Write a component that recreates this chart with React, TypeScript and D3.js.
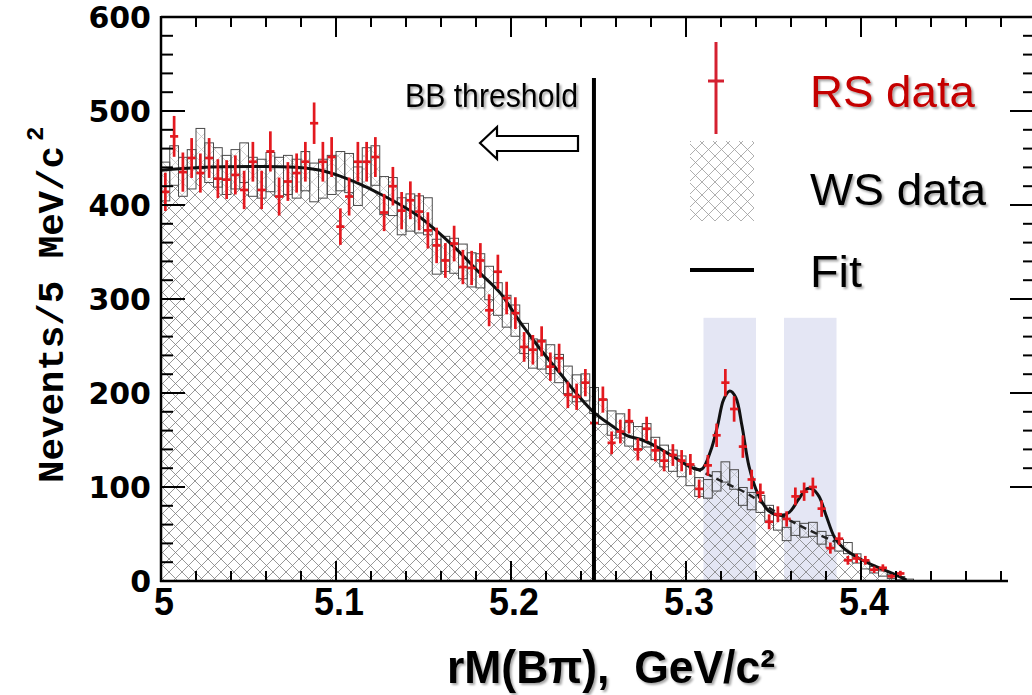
import React from "react";
import * as d3 from "d3";

// ---- data ----
const binStart = 5.0;
const binWidth = 0.005;

const rsCounts = [
  414, 473, 435, 450, 434, 450, 428, 427, 432, 416,
  446, 416, 457, 409, 425, 434, 446, 487, 446, 451,
  377, 409, 446, 446, 451, 392, 420, 394, 405, 393,
  373, 357, 341, 359, 334, 333, 341, 288, 329, 301,
  285, 249, 246, 255, 228, 237, 198, 196, 211, 168,
  193, 147, 159, 170, 140, 162, 139, 128, 134, 128,
  124, 98, 123, 155, 211, 183, 143, 108, 94, 63,
  71, 66, 90, 95, 100, 77, 35, 45, 22, 24,
  22, 12, 14, 5, 8,
];

const wsCounts = [
  425, 442, 430, 438, 460, 445, 440, 432, 438, 445,
  430, 428, 435, 430, 432, 428, 436, 424, 428, 432,
  436, 434, 420, 440, 442, 410, 409, 388, 392, 390,
  388, 345, 348, 346, 340, 331, 330, 317, 300, 287,
  277, 258, 242, 241, 236, 226, 214, 205, 206, 192,
  180, 168, 165, 156, 152, 155, 141, 133, 128, 122,
  112, 100, 98, 106, 116, 108, 90, 85, 82, 72,
  62, 50, 56, 54, 55, 46, 42, 38, 35, 24,
  17, 12, 8, 5, 3, 1,
];

const fitMass = [
  5.0, 5.022, 5.057, 5.079, 5.091, 5.102, 5.114, 5.125, 5.137, 5.148,
  5.159, 5.171, 5.182, 5.194, 5.205, 5.217, 5.228, 5.239, 5.247, 5.257,
  5.266, 5.275, 5.283, 5.293, 5.304, 5.309, 5.314, 5.318, 5.3215, 5.325,
  5.3285, 5.332, 5.336, 5.341, 5.347, 5.354, 5.359, 5.364, 5.369, 5.372,
  5.376, 5.38, 5.385, 5.39, 5.399, 5.409, 5.418, 5.426,
];
const fitCounts = [
  437, 440, 441, 440, 437, 431, 422, 412, 400, 387,
  370, 349, 328, 306, 276, 246, 221, 196, 180, 166,
  155, 150, 143, 132, 120, 119, 138, 165, 193, 202,
  195, 165, 122, 93, 75, 70, 73, 86, 98, 98,
  90, 70, 46, 35, 24, 15, 8, 1,
];

const bkgMass = [5.305, 5.315, 5.325, 5.335, 5.345, 5.355, 5.365, 5.375, 5.385];
const bkgCounts = [120, 111, 102, 93, 81, 69, 59, 50, 42];

const signalBands = [
  [5.31, 5.34],
  [5.356, 5.386],
];
const bandTop = 280;
const thresholdMass = 5.2474;

const xTickValues = [5.0, 5.1, 5.2, 5.3, 5.4];
const xTickLabels = ["5", "5.1", "5.2", "5.3", "5.4"];
const yTickValues = [0, 100, 200, 300, 400, 500, 600];
const yTickLabels = ["0", "100", "200", "300", "400", "500", "600"];
const legendLabels = ["RS data", "WS data", "Fit"];

// ---- layout ----
const W = 1032;
const H = 695;
const x = d3.scaleLinear().domain([5.0, 5.5]).range([161, 1036]);
const y = d3.scaleLinear().domain([0, 600]).range([581, 17]);

const RED = "#e3191f";

export default function App() {
  const hatchPts: [number, number][] = [];
  wsCounts.forEach((v, k) => {
    const lo = binStart + k * binWidth;
    const top = Math.max(0, v - Math.sqrt(v));
    hatchPts.push([lo, top], [lo + binWidth, top]);
  });
  hatchPts.unshift([binStart, 0]);
  hatchPts.push([binStart + wsCounts.length * binWidth, 0]);
  const hatchArea = d3
    .area<[number, number]>()
    .x((d) => x(d[0]))
    .y0(y(0))
    .y1((d) => y(d[1]))(hatchPts) as string;

  const fitLine = d3
    .line<number>()
    .x((_, i) => x(fitMass[i]))
    .y((d) => y(d))
    .curve(d3.curveCatmullRom.alpha(0.5))(fitCounts) as string;

  const bkgLine = d3
    .line<number>()
    .x((_, i) => x(bkgMass[i]))
    .y((d) => y(d))
    .curve(d3.curveCatmullRom.alpha(0.5))(bkgCounts) as string;

  const minorX = d3.range(5.02, 5.5001, 0.02);
  const minorY = d3.range(20, 600, 20);
  const rightY = d3.range(100, 600, 20);

  const shadow = "url(#txtShadow)";

  return (
    <svg
      width={W}
      height={H}
      style={{ position: "absolute", left: 0, top: 0, background: "#fff" }}
      fontFamily="Liberation Sans, Arial, sans-serif"
    >
      <defs>
        <pattern id="hatch" patternUnits="userSpaceOnUse" width={13} height={13}>
          <path d="M0,0 L13,13 M13,0 L0,13" stroke="#7d7d7d" strokeWidth={0.8} fill="none" />
        </pattern>
        <pattern id="hatchLeg" patternUnits="userSpaceOnUse" width={13} height={13}>
          <path d="M0,0 L13,13 M13,0 L0,13" stroke="#9a9a9a" strokeWidth={0.8} fill="none" />
        </pattern>
        <filter id="txtShadow" x="-10%" y="-20%" width="130%" height="160%">
          <feDropShadow dx="2" dy="2" stdDeviation="1.2" floodColor="#000" floodOpacity="0.35" />
        </filter>
      </defs>
      <rect x={0} y={0} width={W} height={H} fill="#fff" />

      {/* signal bands */}
      {signalBands.map(([a, b], i) => (
        <rect
          key={"band" + i}
          x={x(a)}
          y={y(bandTop)}
          width={x(b) - x(a)}
          height={y(0) - y(bandTop)}
          fill="#e4e6f4"
        />
      ))}

      {/* WS hatched histogram */}
      <path d={hatchArea} fill="url(#hatch)" stroke="none" />
      {wsCounts.map((v, k) => {
        const lo = binStart + k * binWidth;
        const e = Math.sqrt(v);
        const top = y(v + e);
        const bot = y(Math.max(0, v - e));
        return (
          <g key={"ws" + k}>
            <rect
              x={x(lo)}
              y={top}
              width={x(lo + binWidth) - x(lo)}
              height={bot - top}
              fill="url(#hatch)"
              fillOpacity={0.45}
              stroke="none"
            />
            <rect
              x={x(lo)}
              y={top}
              width={x(lo + binWidth) - x(lo)}
              height={bot - top}
              fill="none"
              stroke="#4a4a4a"
              strokeWidth={1}
            />
          </g>
        );
      })}

      {/* fit */}
      <path d={bkgLine} fill="none" stroke="#222" strokeWidth={2.5} strokeDasharray="7,5" />
      <path d={fitLine} fill="none" stroke="#111" strokeWidth={3} />

      {/* RS data */}
      {rsCounts.map((v, k) => {
        const lo = binStart + k * binWidth;
        const c = lo + binWidth / 2;
        const e = Math.sqrt(v);
        return (
          <g key={"rs" + k} stroke={RED} strokeWidth={2.7}>
            <line x1={x(c)} x2={x(c)} y1={y(v + e)} y2={y(Math.max(0, v - e))} />
            <line x1={x(lo) + 0.3} x2={x(lo + binWidth) - 0.3} y1={y(v)} y2={y(v)} />
          </g>
        );
      })}

      {/* threshold */}
      <line x1={x(thresholdMass)} x2={x(thresholdMass)} y1={78} y2={y(0)} stroke="#000" strokeWidth={4} />
      <text
        x={405}
        y={107}
        fontSize={33}
        textLength={173}
        lengthAdjust="spacingAndGlyphs"
        fill="#000"
        filter={shadow}
      >
        BB threshold
      </text>
      <path
        d="M480,143 L497,127 L497,136 L578,136 L578,151 L497,151 L497,159 Z"
        fill="#fff"
        stroke="#000"
        strokeWidth={2.2}
        strokeLinejoin="miter"
      />

      {/* legend */}
      <g stroke="#d42030" strokeWidth={3}>
        <line x1={716} x2={716} y1={42} y2={134} />
        <line x1={708} x2={724} y1={81} y2={81} />
      </g>
      <rect x={690} y={141} width={64} height={80} fill="url(#hatchLeg)" />
      <line x1={690} x2={754} y1={270} y2={270} stroke="#000" strokeWidth={4} />
      <text x={810} y={107} fontSize={45} textLength={165} lengthAdjust="spacingAndGlyphs" fill="#c40000" filter={shadow}>
        {legendLabels[0]}
      </text>
      <text x={810} y={205} fontSize={45} textLength={176} lengthAdjust="spacingAndGlyphs" fill="#000" filter={shadow}>
        {legendLabels[1]}
      </text>
      <text x={810} y={287} fontSize={45} textLength={52} lengthAdjust="spacingAndGlyphs" fill="#000" filter={shadow}>
        {legendLabels[2]}
      </text>

      {/* frame */}
      <g stroke="#000" strokeWidth={2.5} fill="none">
        <line x1={161} x2={W} y1={17} y2={17} />
        <line x1={161} x2={161} y1={16} y2={582} />
        <line x1={160} x2={1008} y1={581} y2={581} />
      </g>
      {/* ticks */}
      <g stroke="#000" strokeWidth={2}>
        {minorX.map((v, i) => {
          const major = Math.abs(v * 10 - Math.round(v * 10)) < 1e-6;
          const xx = x(v);
          return (
            <g key={"tx" + i}>
              <line x1={xx} x2={xx} y1={17} y2={17 + (major ? 20 : 10)} />
              {xx < 1008 && <line x1={xx} x2={xx} y1={581} y2={581 - (major ? 20 : 10)} />}
            </g>
          );
        })}
        {minorY.map((v, i) => {
          const major = v % 100 === 0;
          return <line key={"ty" + i} x1={161} x2={161 + (major ? 24 : 12)} y1={y(v)} y2={y(v)} />;
        })}
        {rightY.map((v, i) => {
          const major = v % 100 === 0;
          return <line key={"tr" + i} x1={W} x2={W - (major ? 22 : 9)} y1={y(v)} y2={y(v)} />;
        })}
      </g>

      {/* tick labels */}
      {yTickValues.map((v, i) => (
        <text
          key={"yl" + i}
          x={151}
          y={y(v) + 11}
          textAnchor="end"
          fontFamily="DejaVu Sans, sans-serif"
          fontWeight="bold"
          fontSize={30}
          fill="#000"
        >
          {yTickLabels[i]}
        </text>
      ))}
      {xTickValues.map((v, i) => (
        <text
          key={"xl" + i}
          x={x(v) + 3}
          y={615}
          textAnchor="middle"
          fontWeight="bold"
          fontSize={39}
          fill="#000"
          transform={`translate(${x(v) + 3},0) scale(0.92,1) translate(${-(x(v) + 3)},0)`}
        >
          {xTickLabels[i]}
        </text>
      ))}

      {/* axis titles */}
      <text
        x={447}
        y={683}
        fontWeight="bold"
        fontSize={47}
        textLength={328}
        lengthAdjust="spacingAndGlyphs"
        fill="#000"
        filter={shadow}
      >
        {"rM(Bπ),\u00a0\u00a0GeV/c\u00b2"}
      </text>

      <g transform="translate(63,483) rotate(-90)">
        <text
          x={0}
          y={0}
          fontFamily="Liberation Mono, DejaVu Sans Mono, monospace"
          fontWeight="bold"
          fontSize={37}
          textLength={337}
          lengthAdjust="spacingAndGlyphs"
          fill="#000"
        >
          Nevents/5 MeV/c
        </text>
        <text
          x={342}
          y={-20}
          fontFamily="Liberation Mono, DejaVu Sans Mono, monospace"
          fontWeight="bold"
          fontSize={24}
          fill="#000"
        >
          2
        </text>
      </g>
    </svg>
  );
}
